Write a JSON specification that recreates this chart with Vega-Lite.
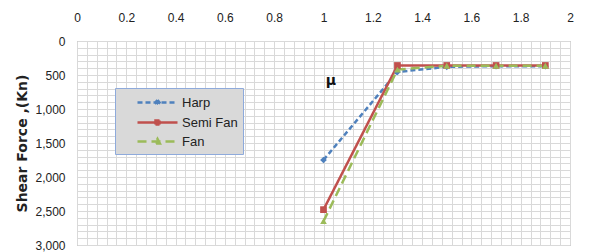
{
  "$schema": "https://vega.github.io/schema/vega-lite/v6.json",
  "autosize": {"type": "none"},
  "width": 493,
  "height": 204,
  "padding": {"left": 77, "top": 41, "right": 20, "bottom": 7},
  "background": "white",
  "config": {
    "view": {"stroke": "#a0a0a0", "strokeWidth": 1},
    "font": "Liberation Sans"
  },
  "datasets": {
    "series": [
      {"series": "Harp", "x": 1.0, "y": 1750},
      {"series": "Harp", "x": 1.3, "y": 455},
      {"series": "Harp", "x": 1.5, "y": 380},
      {"series": "Harp", "x": 1.7, "y": 370},
      {"series": "Harp", "x": 1.9, "y": 370},
      {"series": "Semi Fan", "x": 1.0, "y": 2480},
      {"series": "Semi Fan", "x": 1.3, "y": 360},
      {"series": "Semi Fan", "x": 1.5, "y": 360},
      {"series": "Semi Fan", "x": 1.7, "y": 360},
      {"series": "Semi Fan", "x": 1.9, "y": 360},
      {"series": "Fan", "x": 1.0, "y": 2650},
      {"series": "Fan", "x": 1.3, "y": 420},
      {"series": "Fan", "x": 1.5, "y": 364},
      {"series": "Fan", "x": 1.7, "y": 364},
      {"series": "Fan", "x": 1.9, "y": 364}
    ],
    "notes": [{"label": "μ", "x": 1.03, "y": 590}]
  },
  "resolve": {"axis": {"x": "independent", "y": "independent"}},
  "layer": [
    {
      "data": {"name": "series"},
      "mark": {"type": "point", "opacity": 0},
      "encoding": {
        "x": {
          "field": "x", "type": "quantitative",
          "scale": {"domain": [0, 2], "nice": false, "zero": false},
          "axis": {
            "orient": "top", "title": null, "domain": false, "ticks": false, "labels": false,
            "values": [0,0.04,0.08,0.12,0.16,0.2,0.24,0.28,0.32,0.36,0.4,0.44,0.48,0.52,0.56,0.6,0.64,0.68,0.72,0.76,0.8,0.84,0.88,0.92,0.96,1,1.04,1.08,1.12,1.16,1.2,1.24,1.28,1.32,1.36,1.4,1.44,1.48,1.52,1.56,1.6,1.64,1.68,1.72,1.76,1.8,1.84,1.88,1.92,1.96,2],
            "gridColor": "#d9d9d9", "gridOpacity": 1, "gridWidth": 1
          }
        },
        "y": {
          "field": "y", "type": "quantitative",
          "scale": {"domain": [0, 3000], "reverse": true, "nice": false},
          "axis": {
            "title": null, "domain": false, "ticks": false, "labels": false, "orient": "left",
            "values": [0,100,200,300,400,500,600,700,800,900,1000,1100,1200,1300,1400,1500,1600,1700,1800,1900,2000,2100,2200,2300,2400,2500,2600,2700,2800,2900,3000],
            "gridColor": "#d9d9d9", "gridOpacity": 1, "gridWidth": 1
          }
        }
      }
    },
    {
      "data": {"name": "series"},
      "mark": {"type": "line", "strokeWidth": 2.5},
      "encoding": {
        "x": {
          "field": "x", "type": "quantitative",
          "axis": {
            "orient": "top", "title": null, "domain": false, "ticks": false,
            "values": [0, 0.2, 0.4, 0.6, 0.8, 1, 1.2, 1.4, 1.6, 1.8, 2],
            "format": "~g",
            "labelFont": "Liberation Sans", "labelFontSize": 12, "labelColor": "#222",
            "labelPadding": 17, "labelFlush": false, "labelOverlap": false,
            "gridColor": "#a6a6a6", "gridOpacity": 1, "gridWidth": 1
          }
        },
        "y": {
          "field": "y", "type": "quantitative",
          "axis": {
            "title": "Shear Force ,(Kn)", "domain": false, "ticks": false, "orient": "left",
            "values": [0, 500, 1000, 1500, 2000, 2500, 3000],
            "format": ",.0f",
            "labelFont": "Liberation Sans", "labelFontSize": 12, "labelColor": "#222",
            "labelPadding": 12, "labelFlush": false, "labelOverlap": false,
            "gridColor": "#a6a6a6", "gridOpacity": 1,
            "titleFont": "DejaVu Sans", "titleFontSize": 14, "titleFontWeight": "bold", "titleColor": "#222",
            "titleX": -55, "titleY": 102, "titleAngle": -90, "titleBaseline": "middle", "titleAlign": "center"
          }
        },
        "color": {
          "field": "series", "type": "nominal",
          "scale": {"domain": ["Harp", "Semi Fan", "Fan"], "range": ["#4f81bd", "#c0504d", "#9bbb59"]},
          "legend": {
            "title": null, "orient": "none", "legendX": 38, "legendY": 47,
            "fillColor": "#d9d9d9", "strokeColor": "#8eaadb", "padding": 5,
            "symbolType": "M-2.5,0H2.5", "symbolSize": 256, "symbolStrokeWidth": 2.5, "symbolOffset": 28,
            "labelFont": "Liberation Sans", "labelFontSize": 13, "labelColor": "#222",
            "labelOffset": 15, "rowPadding": 2,
            "encode": {
              "symbols": {
                "update": {
                  "shape": {"signal": "datum.value == 'Harp' ? 'M-2.5,0H2.5M0,-0.32L0.26,0L0,0.32L-0.26,0Z' : datum.value == 'Semi Fan' ? 'M-2.5,0H2.5M-0.25,-0.25H0.25V0.25H-0.25Z' : 'M-2.5,0H2.5M0,-0.32L0.3,0.25H-0.3Z'"},
                  "fill": {"scale": "color", "field": "value"}
                }
              }
            }
          }
        },
        "strokeDash": {
          "field": "series", "type": "nominal",
          "scale": {"domain": ["Harp", "Semi Fan", "Fan"], "range": [[5, 3], [1, 0], [9, 5]]},
          "legend": {
            "title": null, "orient": "none", "legendX": 38, "legendY": 47
          }
        }
      }
    },
    {
      "data": {"name": "series"},
      "transform": [{"filter": "datum.series == 'Harp'"}],
      "mark": {"type": "point", "filled": true, "opacity": 1, "size": 45, "shape": "diamond", "color": "#4f81bd"},
      "encoding": {
        "x": {"field": "x", "type": "quantitative", "axis": null},
        "y": {"field": "y", "type": "quantitative", "axis": null}
      }
    },
    {
      "data": {"name": "series"},
      "transform": [{"filter": "datum.series == 'Semi Fan'"}],
      "mark": {"type": "point", "filled": true, "opacity": 1, "size": 45, "shape": "square", "color": "#c0504d"},
      "encoding": {
        "x": {"field": "x", "type": "quantitative", "axis": null},
        "y": {"field": "y", "type": "quantitative", "axis": null}
      }
    },
    {
      "data": {"name": "series"},
      "transform": [{"filter": "datum.series == 'Fan'"}],
      "mark": {"type": "point", "filled": true, "opacity": 1, "size": 45, "shape": "triangle-up", "color": "#9bbb59"},
      "encoding": {
        "x": {"field": "x", "type": "quantitative", "axis": null},
        "y": {"field": "y", "type": "quantitative", "axis": null}
      }
    },
    {
      "data": {"name": "notes"},
      "mark": {"type": "text", "font": "DejaVu Sans", "fontSize": 14, "fontWeight": "bold", "color": "#111"},
      "encoding": {
        "x": {"field": "x", "type": "quantitative", "axis": null},
        "y": {"field": "y", "type": "quantitative", "axis": null},
        "text": {"field": "label"}
      }
    }
  ]
}
